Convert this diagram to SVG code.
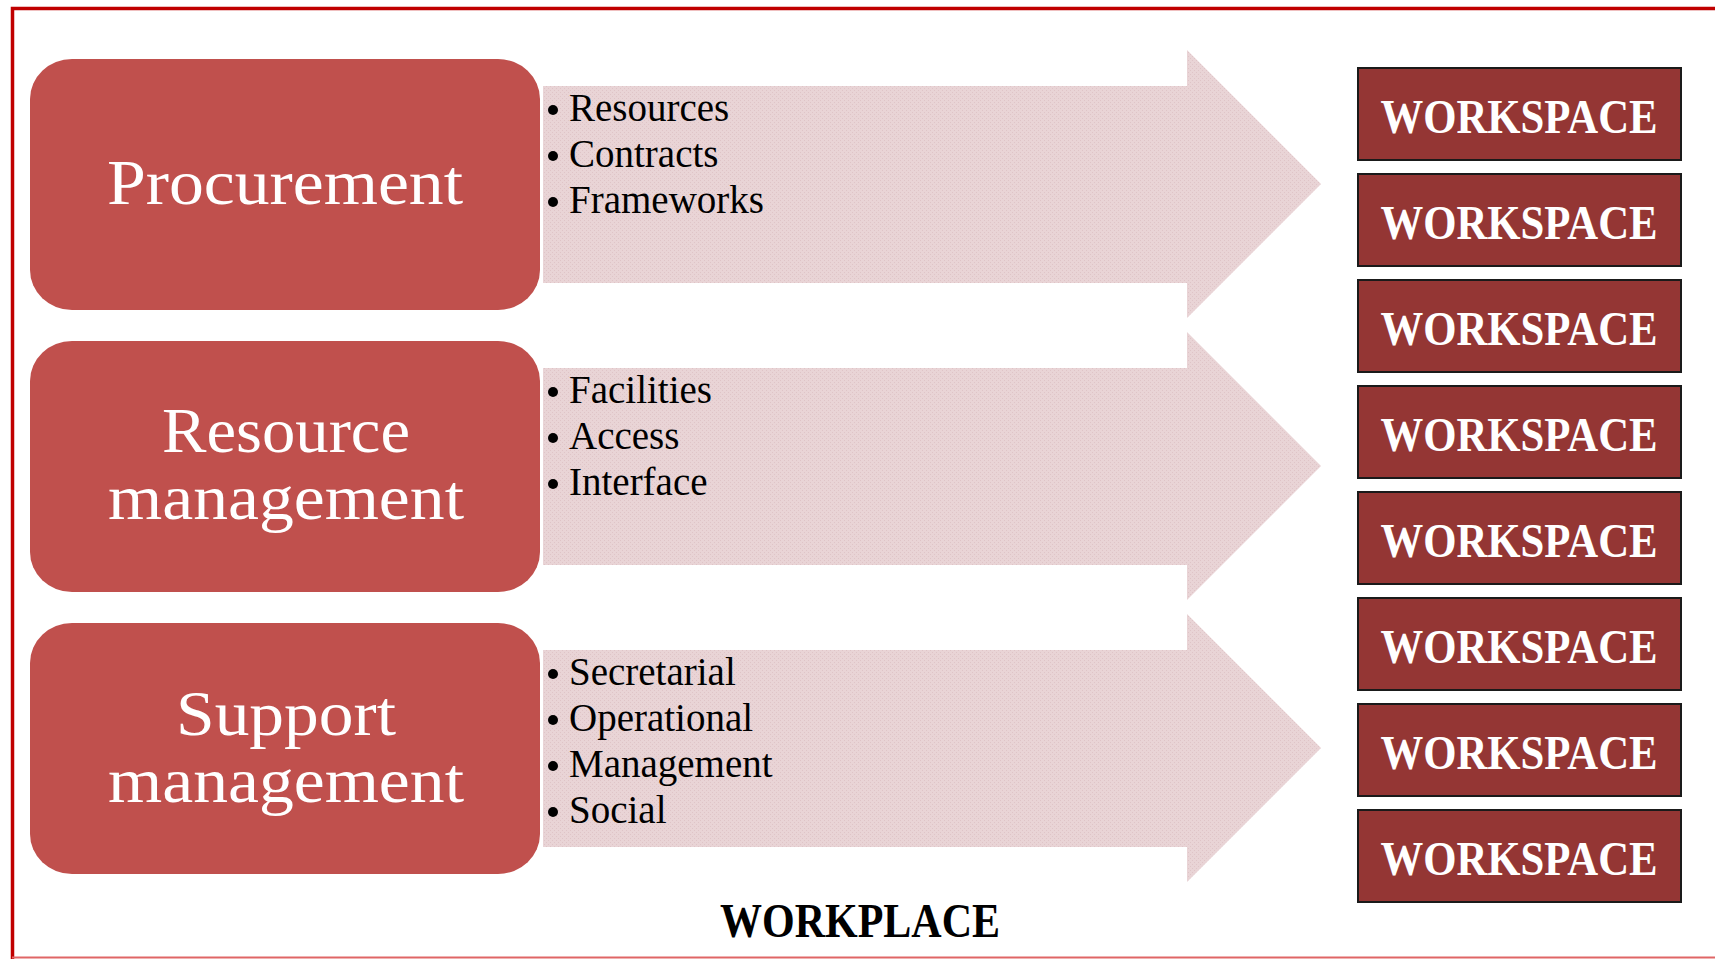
<svg xmlns="http://www.w3.org/2000/svg" width="1715" height="959" viewBox="0 0 1715 959">
<style>
.frame{fill:none;stroke:#c00000;stroke-width:3.5}
.box{fill:#c0504d}
.boxt{font-family:"Liberation Serif",serif;font-size:64px;fill:#ffffff;text-anchor:middle}
.arrow{fill:url(#tex)}
.item{font-family:"Liberation Serif",serif;font-size:39px;fill:#000000}
.dot{fill:#000000}
.ws{fill:#943634;stroke:#1a1a1a;stroke-width:2}
.wst{font-family:"Liberation Serif",serif;font-size:48px;font-weight:bold;fill:#ffffff;text-anchor:middle}
.title{font-family:"Liberation Serif",serif;font-size:48px;font-weight:bold;fill:#000000;text-anchor:middle}
</style>
<defs>
<pattern id="tex" width="4" height="4" patternUnits="userSpaceOnUse">
<rect width="4" height="4" fill="#e9d4d6"/>
<rect x="0" y="0" width="1" height="1" fill="#dfc4c7"/>
<rect x="2" y="2" width="1" height="1" fill="#dfc4c7"/>
</pattern>
</defs>
<rect width="1715" height="959" fill="#ffffff"/>
<path class="frame" d="M12.5,959 V8.5 H1715"/>
<line x1="12" y1="957.5" x2="1715" y2="957.5" stroke="#e06666" stroke-width="2"/>

<g id="connectors">
<path class="arrow" d="M543,86 H1187 V50 L1321,184 L1187,318 V283 H543 Z"/>
<path class="arrow" d="M543,368 H1187 V332 L1321,466 L1187,600 V565 H543 Z"/>
<path class="arrow" d="M543,650 H1187 V614 L1321,748 L1187,882 V847 H543 Z"/>
</g>

<g id="procurement">
<rect class="box" x="30" y="59" width="510" height="251" rx="42" ry="40"/>
<text class="boxt" x="285" y="204" textLength="356" lengthAdjust="spacingAndGlyphs">Procurement</text>
</g>
<g id="resource-management">
<rect class="box" x="30" y="341" width="510" height="251" rx="42" ry="40"/>
<text class="boxt" x="286" y="452" textLength="248" lengthAdjust="spacingAndGlyphs">Resource</text>
<text class="boxt" x="286" y="519" textLength="356" lengthAdjust="spacingAndGlyphs">management</text>
</g>
<g id="support-management">
<rect class="box" x="30" y="623" width="510" height="251" rx="42" ry="40"/>
<text class="boxt" x="286" y="735" textLength="220" lengthAdjust="spacingAndGlyphs">Support</text>
<text class="boxt" x="286" y="802" textLength="356" lengthAdjust="spacingAndGlyphs">management</text>
</g>

<g id="list-procurement">
<circle class="dot" cx="553" cy="110" r="5"/><text class="item" x="569" y="121">Resources</text>
<circle class="dot" cx="553" cy="156" r="5"/><text class="item" x="569" y="167">Contracts</text>
<circle class="dot" cx="553" cy="202" r="5"/><text class="item" x="569" y="213">Frameworks</text>
</g>
<g id="list-resource">
<circle class="dot" cx="553" cy="392" r="5"/><text class="item" x="569" y="403">Facilities</text>
<circle class="dot" cx="553" cy="438" r="5"/><text class="item" x="569" y="449">Access</text>
<circle class="dot" cx="553" cy="484" r="5"/><text class="item" x="569" y="495">Interface</text>
</g>
<g id="list-support">
<circle class="dot" cx="553" cy="674" r="5"/><text class="item" x="569" y="685">Secretarial</text>
<circle class="dot" cx="553" cy="720" r="5"/><text class="item" x="569" y="731">Operational</text>
<circle class="dot" cx="553" cy="766" r="5"/><text class="item" x="569" y="777">Management</text>
<circle class="dot" cx="553" cy="812" r="5"/><text class="item" x="569" y="823">Social</text>
</g>

<g id="workspace-1"><rect class="ws" x="1358" y="68" width="323" height="92"/><text class="wst" x="1519" y="133" textLength="277" lengthAdjust="spacingAndGlyphs">WORKSPACE</text></g>
<g id="workspace-2"><rect class="ws" x="1358" y="174" width="323" height="92"/><text class="wst" x="1519" y="239" textLength="277" lengthAdjust="spacingAndGlyphs">WORKSPACE</text></g>
<g id="workspace-3"><rect class="ws" x="1358" y="280" width="323" height="92"/><text class="wst" x="1519" y="345" textLength="277" lengthAdjust="spacingAndGlyphs">WORKSPACE</text></g>
<g id="workspace-4"><rect class="ws" x="1358" y="386" width="323" height="92"/><text class="wst" x="1519" y="451" textLength="277" lengthAdjust="spacingAndGlyphs">WORKSPACE</text></g>
<g id="workspace-5"><rect class="ws" x="1358" y="492" width="323" height="92"/><text class="wst" x="1519" y="557" textLength="277" lengthAdjust="spacingAndGlyphs">WORKSPACE</text></g>
<g id="workspace-6"><rect class="ws" x="1358" y="598" width="323" height="92"/><text class="wst" x="1519" y="663" textLength="277" lengthAdjust="spacingAndGlyphs">WORKSPACE</text></g>
<g id="workspace-7"><rect class="ws" x="1358" y="704" width="323" height="92"/><text class="wst" x="1519" y="769" textLength="277" lengthAdjust="spacingAndGlyphs">WORKSPACE</text></g>
<g id="workspace-8"><rect class="ws" x="1358" y="810" width="323" height="92"/><text class="wst" x="1519" y="875" textLength="277" lengthAdjust="spacingAndGlyphs">WORKSPACE</text></g>

<g id="workplace-label">
<text class="title" x="860" y="937" textLength="280" lengthAdjust="spacingAndGlyphs">WORKPLACE</text>
</g>
</svg>
